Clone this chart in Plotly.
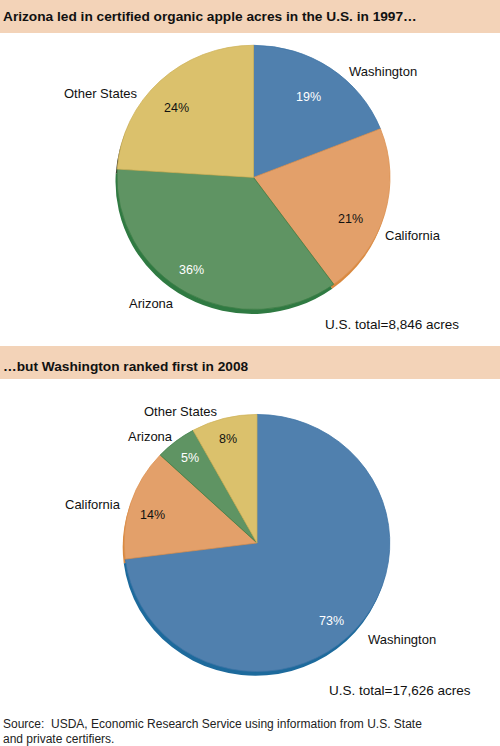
import json
import plotly.graph_objects as go

W, H = 500, 746
FONT = "Liberation Sans"

states = ["Washington", "California", "Arizona", "Other States"]
acres_share_1997 = [19, 21, 36, 24]
acres_share_2008 = [73, 14, 5, 8]
titles = ["Arizona led in certified organic apple acres in the U.S. in 1997…",
          "…but Washington ranked first in 2008"]
totals = ["U.S. total=8,846 acres", "U.S. total=17,626 acres"]
source_lines = ["Source:  USDA, Economic Research Service using information from U.S. State",
                "and private certifiers."]

face = ["#5080AE", "#E3A06A", "#5F9463", "#DBC16C"]
edge = ["#3F74A6", "#DD9150", "#3F7E48", "#D0B45C"]
shadow = ["#1D6A9C", "#D9893F", "#2F7A42", "#3A3A2A"]
text_col = ["white", "#111111", "white", "#111111"]
SQUASH = 0.968  # the reference pies are slightly flattened vertically
pie_centres_y = [181.8, 177.4, 547.2, 543.0]


def dom(cx, cy, r):
    return dict(x=[(cx - r) / W, (cx + r) / W], y=[1 - (cy + r) / H, 1 - (cy - r) / H])


def pie(values, cx, cy, r, colors, line):
    return go.Pie(labels=states, values=values, sort=False, direction="clockwise", rotation=0,
                  domain=dom(cx, cy, r), textinfo="none", hoverinfo="label+percent", showlegend=False,
                  marker=dict(colors=colors, line=dict(color=line if line else colors, width=0.8 if line else 0)))


fig = go.Figure()
# darker rim behind each pie, then the face
fig.add_trace(pie(acres_share_1997, 252.0, pie_centres_y[0], 136.5, shadow, None))
fig.add_trace(pie(acres_share_1997, 253.5, pie_centres_y[1], 136.5, face, edge))
fig.add_trace(pie(acres_share_2008, 255.5, pie_centres_y[2], 132.8, shadow, None))
fig.add_trace(pie(acres_share_2008, 257.0, pie_centres_y[3], 132.8, face, edge))


def px_text(x, y, text, size=13, color="#111111", anchor="center", bold=False):
    fig.add_annotation(xref="paper", yref="paper", x=x / W, y=1 - y / H, text=f"<b>{text}</b>" if bold else text,
                       showarrow=False, xanchor=anchor, yanchor="middle", align="left",
                       font=dict(family=FONT, size=size, color=color))


def band(y0, y1):
    fig.add_shape(type="rect", xref="paper", yref="paper", x0=0, x1=1, y0=1 - y1 / H, y1=1 - y0 / H,
                  fillcolor="#F3D3B8", line=dict(width=0), layer="below")


band(0, 33)
band(346, 379)
px_text(1, 16, titles[0], size=13.7, anchor="left", bold=True)
px_text(1, 366, titles[1], size=13.7, anchor="left", bold=True)

# percentage labels
pct_pos_1 = [(308, 97), (350, 219), (191, 270), (176, 107.5)]
pct_pos_2 = [(331, 621), (152, 514.5), (189.5, 457.5), (228, 439)]
for vals, pos in ((acres_share_1997, pct_pos_1), (acres_share_2008, pct_pos_2)):
    for v, (x, y), c in zip(vals, pos, text_col):
        px_text(x, y, f"{v}%", size=12.5, color=c)

# state labels
name_pos_1 = [(347, 72), (383, 235), (127, 303.5), (62, 93.5)]
name_pos_2 = [(366, 639.5), (63, 504.5), (126, 437), (142, 411.5)]
for pos in (name_pos_1, name_pos_2):
    for s, (x, y) in zip(states, pos):
        px_text(x, y, s, anchor="left")

px_text(322.5, 325, totals[0], size=13.5, anchor="left")
px_text(326.5, 690.5, totals[1], size=13.5, anchor="left")
px_text(1, 724, source_lines[0], size=12, anchor="left", color="#222222")
px_text(1, 739, source_lines[1], size=12, anchor="left", color="#222222")

fig.update_layout(width=W, height=H, margin=dict(l=0, r=0, t=0, b=0), paper_bgcolor="white",
                  plot_bgcolor="white", font=dict(family=FONT))
post = """
document.body.style.margin='0';
var cys = %s, k = %s;
document.querySelectorAll('.pielayer .trace').forEach(function(g, i){
  g.setAttribute('transform', 'translate(0,' + (cys[i] * (1 - k)) + ') scale(1,' + k + ')');
});
""" % (json.dumps(pie_centres_y), SQUASH)
fig.write_html("out.html", config=dict(displayModeBar=False), post_script=post)
